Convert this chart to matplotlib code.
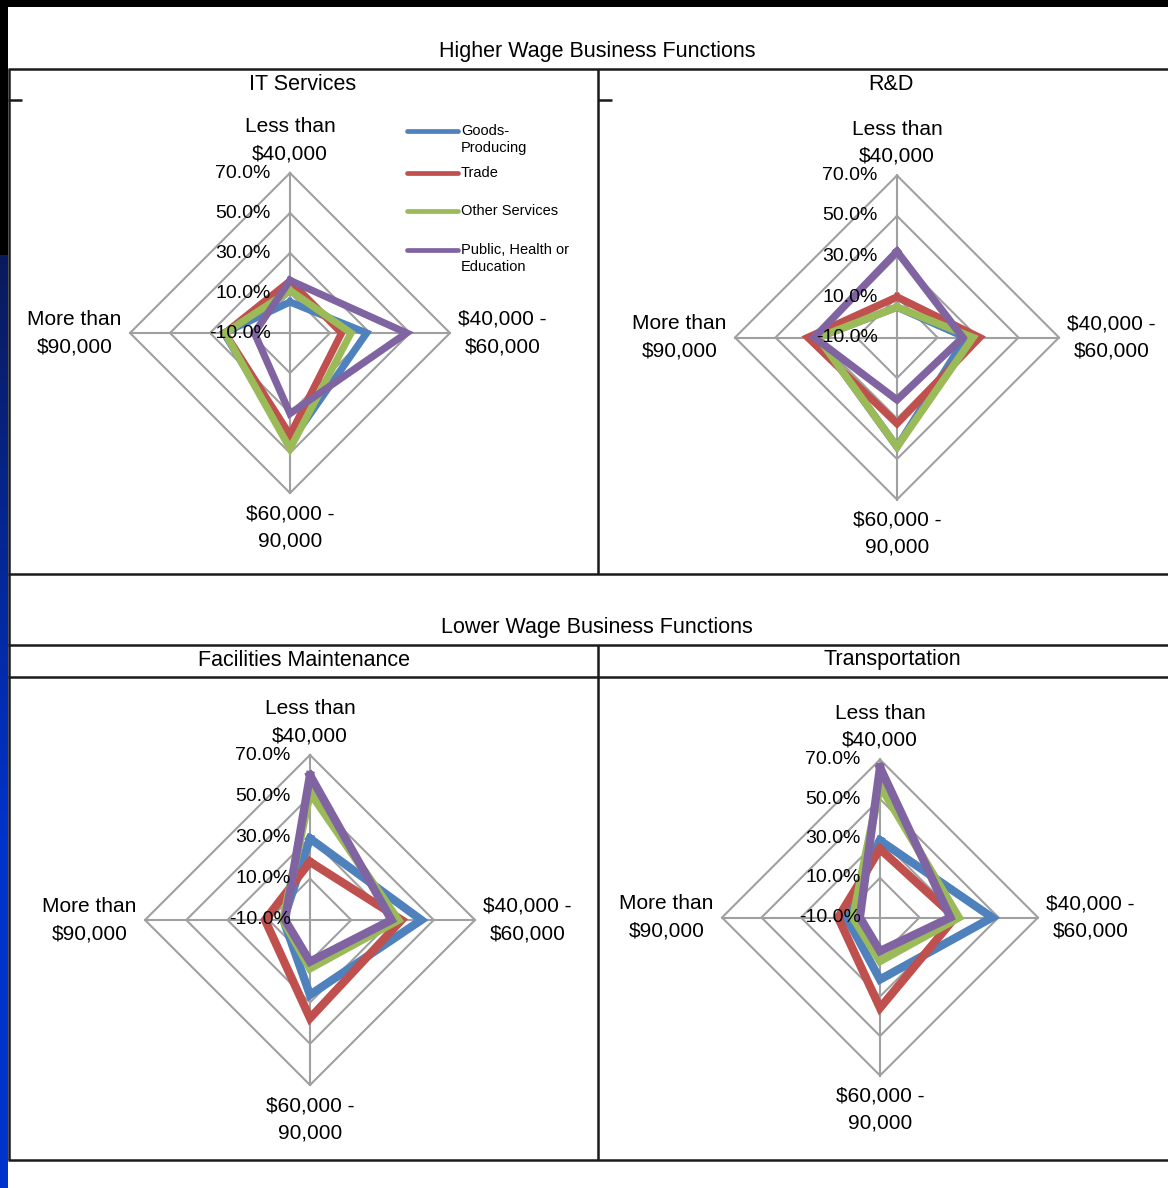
import numpy as np
import matplotlib
matplotlib.use("Agg")
import matplotlib.pyplot as plt
from matplotlib import font_manager
from matplotlib.colors import LinearSegmentedColormap

# ---------------- data ----------------
categories = ["Less than\n\\$40,000", "\\$40,000 -\n\\$60,000", "\\$60,000 -\n90,000", "More than\n\\$90,000"]
series_names = ["Goods-\nProducing", "Trade", "Other Services", "Public, Health or\nEducation"]
series_colors = ["#4F81BD", "#C0504D", "#9BBB59", "#8064A2"]
r_ticks = [-10, 10, 30, 50, 70]

it_goods = [5.5, 28.3, 45.0, 23.0]
it_trade = [16.0, 15.8, 41.0, 22.5]
it_other = [11.3, 20.5, 47.8, 22.5]
it_public = [16.3, 48.3, 30.3, 7.8]

rd_goods = [5.0, 24.0, 44.0, 29.0]
rd_trade = [10.0, 30.8, 32.5, 34.0]
rd_other = [5.0, 27.5, 44.0, 29.0]
rd_public = [32.5, 22.5, 20.8, 30.8]

fm_goods = [29.5, 44.0, 26.3, 2.9]
fm_trade = [18.2, 34.4, 37.6, 11.8]
fm_other = [52.0, 32.7, 13.4, 3.0]
fm_public = [60.2, 29.5, 10.2, 2.1]

tr_goods = [29.0, 46.8, 21.4, 7.0]
tr_trade = [24.7, 28.0, 35.8, 11.2]
tr_other = [57.0, 29.8, 12.0, 3.6]
tr_public = [66.0, 25.6, 7.0, 0.2]

# ---------------- fonts ----------------
names = {f.name for f in font_manager.fontManager.ttflist}
FAM = "Liberation Sans Narrow" if "Liberation Sans Narrow" in names else "Liberation Sans"
plt.rcParams["font.family"] = [FAM, "DejaVu Sans"]

W, H = 1168, 1188
fig = plt.figure(figsize=(W / 100, H / 100), dpi=100, facecolor="black")

# background axes in pixel coordinates
bg = fig.add_axes([0, 0, 1, 1])
bg.set_xlim(0, W)
bg.set_ylim(H, 0)
bg.set_axis_off()
bg.add_patch(plt.Rectangle((8, 7), W - 8, H - 7, facecolor="white", edgecolor="none"))

# left blue strip gradient
cmap = LinearSegmentedColormap.from_list("strip", ["#0a1a5c", "#0033cc"])
grad = np.clip(np.linspace(0, 1.6, 200), 0, 1)[::-1].reshape(-1, 1)
bg.imshow(grad, cmap=cmap, extent=[0, 7.5, H, 255], aspect="auto", origin="lower",
          interpolation="bilinear")
bg.set_xlim(0, W)
bg.set_ylim(H, 0)

LC = "#1a1a1a"
LW = 1.8
def hline(y, x0=8, x1=W):
    bg.plot([x0, x1], [y, y], color=LC, lw=LW, solid_capstyle="butt")
def vline(x, y0, y1):
    bg.plot([x, x], [y0, y1], color=LC, lw=LW, solid_capstyle="butt")

hline(69)
hline(574)
hline(645)
hline(677)
hline(1160, x0=8, x1=W)
vline(598, 69, 574)
vline(598, 645, 1160)
vline(9, 69, 1160)
hline(100, 8, 22)
hline(100, 598, 612)

title_fs = 15.5
bg.text(597, 52, "Higher Wage Business Functions", ha="center", va="center", fontsize=title_fs)
bg.text(597, 628, "Lower Wage Business Functions", ha="center", va="center", fontsize=title_fs)
bg.text(303, 84, "IT Services", ha="center", va="center", fontsize=title_fs)
bg.text(891, 84, "R&D", ha="center", va="center", fontsize=title_fs)
bg.text(304, 660, "Facilities Maintenance", ha="center", va="center", fontsize=title_fs)
bg.text(892, 660, "Transportation", ha="center", va="center", fontsize=title_fs)

# legend (in IT Services panel)
leg_y = [131, 173, 211, 250]
for name, col, y in zip(series_names, series_colors, leg_y):
    bg.plot([407, 458], [y, y], color=col, lw=3.4, solid_capstyle="round")
    bg.text(461, y - 7, name, ha="left", va="top", fontsize=10.5, linespacing=1.3)

angles = np.arange(4) * np.pi / 2
GRID = "#a0a0a0"

def radar(cx, cy, R, data, lw):
    ax = fig.add_axes([(cx - R) / W, (H - cy - R) / H, 2 * R / W, 2 * R / H],
                      projection="polar")
    ax.set_theta_offset(np.pi / 2)
    ax.set_theta_direction(-1)
    ax.set_ylim(r_ticks[0], r_ticks[-1])
    ax.set_axis_off()
    ax.patch.set_alpha(0)
    th = np.append(angles, angles[0])
    for v in r_ticks[1:]:
        ax.plot(th, [v] * 5, color=GRID, lw=1.5, clip_on=False, zorder=1)
    for a in angles:
        ax.plot([a, a], [r_ticks[0], r_ticks[-1]], color=GRID, lw=1.5, clip_on=False, zorder=1)
    for vals, col in zip(data, series_colors):
        ax.plot(th, list(vals) + [vals[0]], color=col, lw=lw, clip_on=False,
                solid_joinstyle="miter", zorder=3)
    for v in r_ticks:
        ax.annotate(f"{v:.1f}%", xy=(0, v), xytext=(-14, 0), textcoords="offset points",
                    ha="right", va="center", fontsize=14, zorder=5, annotation_clip=False)
    fs = 15
    ls = 1.55
    ax.annotate(categories[0], xy=(angles[0], 70), xytext=(0, 7), textcoords="offset points",
                ha="center", va="bottom", fontsize=fs, linespacing=ls, annotation_clip=False)
    ax.annotate(categories[1], xy=(angles[1], 70), xytext=(6, 0), textcoords="offset points",
                ha="left", va="center", fontsize=fs, linespacing=ls, multialignment="center",
                annotation_clip=False)
    ax.annotate(categories[2], xy=(angles[2], 70), xytext=(0, -8), textcoords="offset points",
                ha="center", va="top", fontsize=fs, linespacing=ls, annotation_clip=False)
    ax.annotate(categories[3], xy=(angles[3], 70), xytext=(-6, 0), textcoords="offset points",
                ha="right", va="center", fontsize=fs, linespacing=ls, multialignment="center",
                annotation_clip=False)
    return ax

radar(290, 333, 160, [it_goods, it_trade, it_other, it_public], 5.2)
radar(897, 337.5, 162, [rd_goods, rd_trade, rd_other, rd_public], 5.4)
radar(310, 920, 165, [fm_goods, fm_trade, fm_other, fm_public], 6.0)
radar(880, 917.5, 158, [tr_goods, tr_trade, tr_other, tr_public], 6.0)

fig.savefig("out.png", dpi=100, facecolor="black")
